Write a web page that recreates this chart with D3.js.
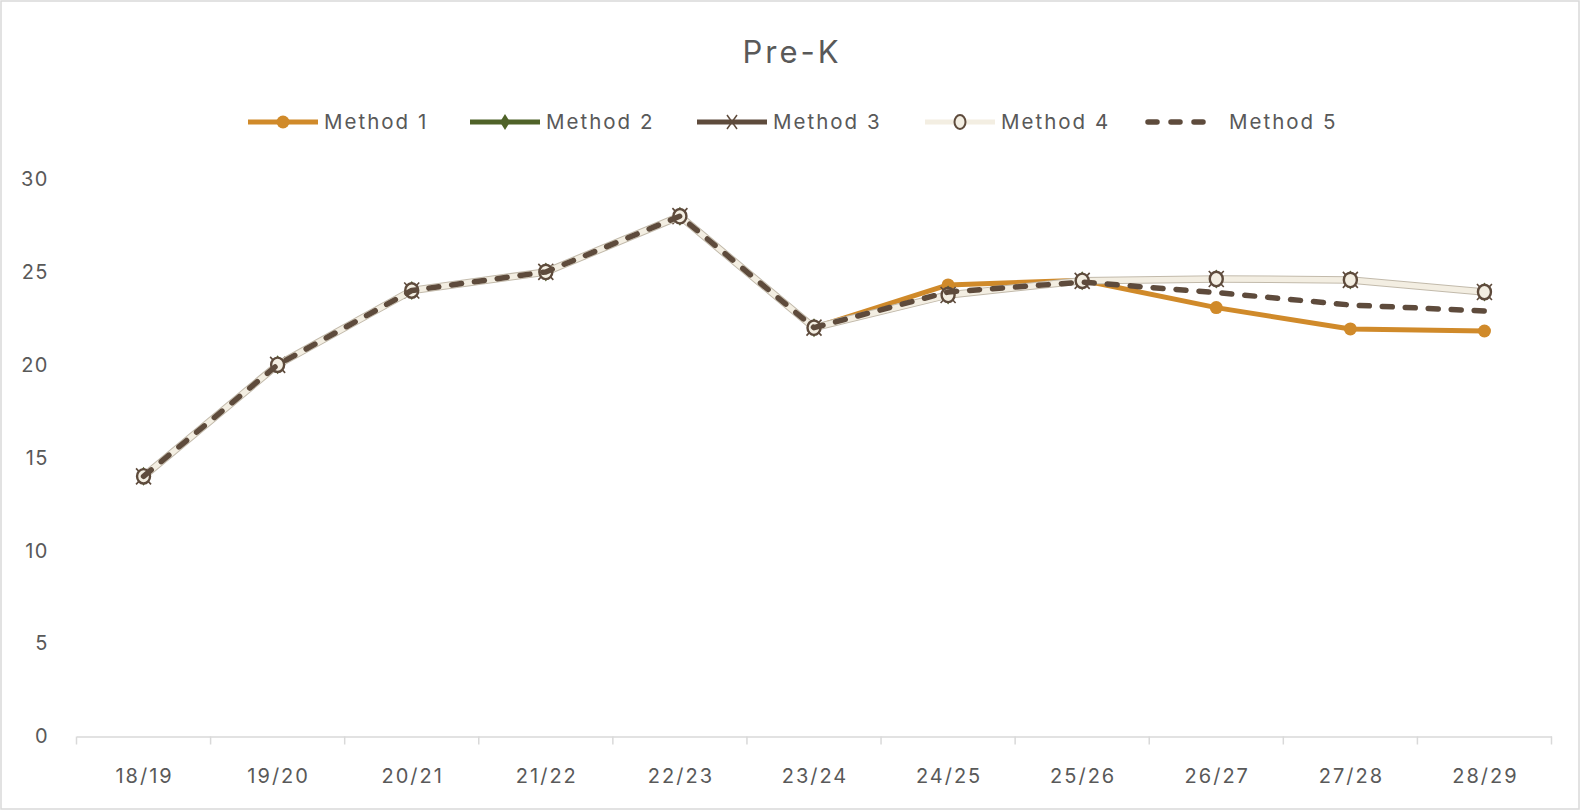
<!DOCTYPE html>
<html><head><meta charset="utf-8">
<script src="https://cdn.jsdelivr.net/npm/d3@7"></script>
<style>
html,body{margin:0;padding:0;background:#fff;}
svg{display:block;font-family:Inter, "Noto Sans", sans-serif;}
</style></head>
<body><svg id="chart" width="1580" height="811"></svg>
<script>
const categories = ["18/19","19/20","20/21","21/22","22/23","23/24","24/25","25/26","26/27","27/28","28/29"];
const method1 = [14,20,24,25,28,22,24.3,24.55,23.08,21.93,21.82];
const method2 = [14,20,24,25,28,22,23.76,24.52,24.62,24.57,23.92];
const method3 = [14,20,24,25,28,22,23.76,24.52,24.62,24.57,23.92];
const method4 = [14,20,24,25,28,22,23.76,24.52,24.62,24.57,23.92];
const method5 = [14,20,24,25,28,22,23.92,24.45,23.89,23.22,22.9];
const seriesNames = ["Method 1","Method 2","Method 3","Method 4","Method 5"];
const yTicks = [0,5,10,15,20,25,30];
const title = "Pre-K";

const svg = d3.select("#chart");
const W = 1580, H = 811;
const txt = "#595959";
svg.append("rect").attr("x",1).attr("y",1).attr("width",W-2).attr("height",H-3)
  .attr("fill","#fff").attr("stroke","#D9D9D9").attr("stroke-width",1.5);

const x = d3.scaleBand().domain(categories).range([76.5, 1551.5]);
const y = d3.scaleLinear().domain([0,30]).range([736.5, 179]);

svg.append("text").attr("x",792).attr("y",63).attr("text-anchor","middle")
  .attr("font-size",31).attr("letter-spacing","3px").attr("fill",txt).text(title);

// y axis labels
const yAxis = d3.axisLeft(y).tickValues(yTicks).tickSize(0).tickPadding(0);
const gy = svg.append("g").attr("transform","translate(49,0)").call(yAxis);
gy.select(".domain").remove();
gy.selectAll("text").attr("font-size",20).attr("letter-spacing","1.5px").attr("fill",txt).attr("font-family","Inter, 'Noto Sans', sans-serif");

// x axis
const xAxis = d3.axisBottom(x).tickSize(0).tickPadding(32);
const gx = svg.append("g").attr("transform",`translate(0,${y(0)})`).call(xAxis);
gx.select(".domain").attr("stroke","#D9D9D9").attr("stroke-width",1.5);
gx.selectAll("text").attr("font-size",20).attr("letter-spacing","2px").attr("fill",txt).attr("dx","1px").attr("font-family","Inter, 'Noto Sans', sans-serif");
const bounds = categories.map(c=>x(c)).concat([x.range()[1]]);
gx.selectAll(".sep").data(bounds).enter().append("line")
  .attr("x1",d=>d).attr("x2",d=>d).attr("y1",0).attr("y2",8)
  .attr("stroke","#D9D9D9").attr("stroke-width",1.5);

const cx = c => x(c) + x.bandwidth()/2;
const line = d3.line().x((d,i)=>cx(categories[i])).y(d=>y(d));

const orange="#D08A2A", green="#4F6228", brown="#5E4B3C", beige="#F3EEE2";

const g = svg.append("g");
// Method 1
g.append("path").attr("d",line(method1)).attr("fill","none").attr("stroke",orange).attr("stroke-width",5).attr("stroke-linejoin","round");
g.selectAll(".m1").data(method1).enter().append("circle")
  .attr("cx",(d,i)=>cx(categories[i])).attr("cy",d=>y(d)).attr("r",6.5).attr("fill",orange);
// Method 2
g.append("path").attr("d",line(method2)).attr("fill","none").attr("stroke",green).attr("stroke-width",4.5).attr("stroke-linejoin","round");
g.selectAll(".m2").data(method2).enter().append("path")
  .attr("transform",(d,i)=>`translate(${cx(categories[i])},${y(d)})`)
  .attr("d","M0,-9.5L6.5,0L0,9.5L-6.5,0Z").attr("fill",green);
// Method 3
g.append("path").attr("d",line(method3)).attr("fill","none").attr("stroke",brown).attr("stroke-width",4.5).attr("stroke-linejoin","round");
g.selectAll(".m3").data(method3).enter().append("path")
  .attr("transform",(d,i)=>`translate(${cx(categories[i])},${y(d)})`)
  .attr("d","M-7.5,-8L7.5,8M-7.5,8L7.5,-8").attr("stroke",brown).attr("stroke-width",1.6).attr("fill","none");
// Method 4
g.append("path").attr("d",line(method4)).attr("fill","none").attr("stroke","#C2BAAB").attr("stroke-width",7.5).attr("stroke-linejoin","round");
g.append("path").attr("d",line(method4)).attr("fill","none").attr("stroke",beige).attr("stroke-width",5.5).attr("stroke-linejoin","round");
g.selectAll(".m4").data(method4).enter().append("ellipse")
  .attr("cx",(d,i)=>cx(categories[i])).attr("cy",d=>y(d)).attr("rx",6.5).attr("ry",7.2)
  .attr("fill",beige).attr("stroke",brown).attr("stroke-width",2.4);
// Method 5
g.append("path").attr("d",line(method5)).attr("fill","none").attr("stroke",brown).attr("stroke-width",5.5)
  .attr("stroke-dasharray","10,13").attr("stroke-linecap","round").attr("stroke-linejoin","round");

// Legend
const legX = [248, 470, 697, 925, 1145];
const legY = 122;
const lg = svg.append("g");
seriesNames.forEach((name,i)=>{
  const x0 = legX[i], x1 = x0+70, xm = x0+35;
  if(i===0){
    lg.append("line").attr("x1",x0).attr("x2",x1).attr("y1",legY).attr("y2",legY).attr("stroke",orange).attr("stroke-width",5);
    lg.append("circle").attr("cx",xm).attr("cy",legY).attr("r",6.5).attr("fill",orange);
  } else if(i===1){
    lg.append("line").attr("x1",x0).attr("x2",x1).attr("y1",legY).attr("y2",legY).attr("stroke",green).attr("stroke-width",5);
    lg.append("path").attr("transform",`translate(${xm},${legY})`).attr("d","M0,-8L5,0L0,8L-5,0Z").attr("fill",green);
  } else if(i===2){
    lg.append("line").attr("x1",x0).attr("x2",x1).attr("y1",legY).attr("y2",legY).attr("stroke",brown).attr("stroke-width",5);
    lg.append("path").attr("transform",`translate(${xm},${legY})`).attr("d","M-5,-7L5,7M-5,7L5,-7").attr("stroke",brown).attr("stroke-width",1.5);
  } else if(i===3){
    lg.append("line").attr("x1",x0).attr("x2",x1).attr("y1",legY).attr("y2",legY).attr("stroke",beige).attr("stroke-width",5);
    lg.append("ellipse").attr("cx",xm).attr("cy",legY).attr("rx",5.5).attr("ry",7).attr("fill",beige).attr("stroke",brown).attr("stroke-width",2);
  } else {
    lg.append("line").attr("x1",x0+3).attr("x2",x1).attr("y1",legY).attr("y2",legY).attr("stroke",brown).attr("stroke-width",5.5)
      .attr("stroke-dasharray","9,14").attr("stroke-linecap","round");
  }
  lg.append("text").attr("x",i===4? x1+14 : x1+6).attr("y",legY+7).attr("font-size",20.5).attr("letter-spacing","2px").attr("fill",txt).text(name);
});
</script></body></html>
